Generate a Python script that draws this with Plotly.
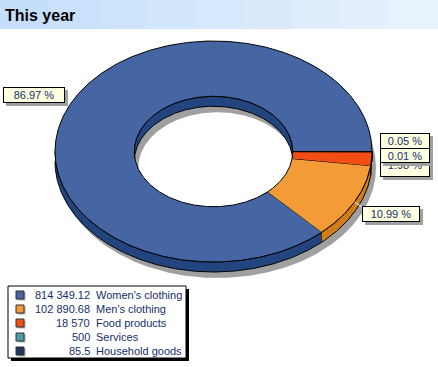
import numpy as np
import plotly.graph_objects as go

# ---------------- data ----------------
categories = ["Women's clothing", "Men's clothing", "Food products", "Services", "Household goods"]
values = [814349.12, 102890.68, 18570, 500, 85.5]
top_colors = ["#4566A3", "#F39C37", "#F24E13", "#4B9CA8", "#22375F"]
wall_colors = ["#23457F", "#D27C17", "#C23A08", "#2F7A85", "#15223D"]
title_text = "This year"

# ---------------- layout constants ----------------
W, H = 438, 367
CX, CY, RX, RY = 213.5, 151.5, 158.5, 110.5
HOLE = 0.5
DEPTH = 10
SDX, SDY = 4, 16
FONT = "Arial, Liberation Sans, sans-serif"
TXT = "#14306B"
# label boxes (x0, y0, x1, y1) and whether a leader line is drawn
label_boxes = [(3, 87, 65, 103), (362, 206, 420, 222), (380, 152, 430, 177),
               (380, 133, 430, 149), (380, 148, 430, 163)]
label_leader = [False, True, False, False, False]


def arc(t0, t1, rx, ry, dx=0.0, dy=0.0):
    n = max(2, int(abs(t1 - t0) / 0.5) + 2)
    t = np.radians(np.linspace(t0, t1, n))
    return CX + dx + rx * np.cos(t), CY + dy - ry * np.sin(t)


def poly(fig, xs, ys, fill, line=True):
    fig.add_trace(go.Scatter(
        x=np.concatenate(xs), y=np.concatenate(ys), mode="lines", fill="toself",
        fillcolor=fill, line=dict(color="black" if line else fill, width=1 if line else 0),
        hoverinfo="skip", showlegend=False))


total = sum(values)
fracs = [v / total for v in values]
starts = np.concatenate([[0], np.cumsum(fracs)[:-1]]) * 360
ends = np.cumsum(fracs) * 360

fig = go.Figure()

# shadow of the donut
xo, yo = arc(0, 360, RX, RY, SDX, SDY)
xi, yi = arc(360, 0, RX * HOLE, RY * HOLE, SDX, SDY)
poly(fig, [xo, xi], [yo, yi], "#A0A0A0", line=False)

# inner (back) walls
for a, b, c in zip(starts, ends, wall_colors):
    lo, hi = max(a, 0), min(b, 180)
    if hi > lo:
        x1, y1 = arc(lo, hi, RX * HOLE, RY * HOLE)
        x2, y2 = arc(hi, lo, RX * HOLE, RY * HOLE, 0, DEPTH)
        poly(fig, [x1, x2], [y1, y2], c)

# outer (front) walls
for a, b, c in zip(starts, ends, wall_colors):
    lo, hi = max(a, 180), min(b, 360)
    if hi > lo:
        x1, y1 = arc(lo, hi, RX, RY)
        x2, y2 = arc(hi, lo, RX, RY, 0, DEPTH)
        poly(fig, [x1, x2], [y1, y2], c)

# top surfaces
for a, b, c in zip(starts, ends, top_colors):
    x1, y1 = arc(a, b, RX, RY)
    x2, y2 = arc(b, a, RX * HOLE, RY * HOLE)
    poly(fig, [x1, x2], [y1, y2], c)

shapes = []
annotations = []

# title bar (stepped gradient)
nb = 9
c0, c1 = np.array([197, 223, 250]), np.array([232, 242, 253])
for i in range(nb):
    col = c0 + (c1 - c0) * i / (nb - 1)
    shapes.append(dict(type="rect", xref="x", yref="y", x0=W * i / nb, x1=W * (i + 1) / nb + 1,
                       y0=0, y1=29, fillcolor="rgb(%d,%d,%d)" % tuple(col.astype(int)),
                       line=dict(width=0), layer="below"))
annotations.append(dict(text="<b>" + title_text + "</b>", x=3, y=15.5, xref="x", yref="y",
                        xanchor="left", yanchor="middle", showarrow=False,
                        font=dict(family=FONT, size=16, color="black")))

# percentage labels (each with its own drop shadow, drawn in order)
for i, (f, box) in enumerate(zip(fracs, label_boxes)):
    x0, y0, x1, y1 = box
    if label_leader[i]:
        mid = (starts[i] + ends[i]) / 2
        px, py = CX + RX * np.cos(np.radians(mid)), CY - RY * np.sin(np.radians(mid))
        fig.add_trace(go.Scatter(x=[px, x0], y=[py, y0 + 1], mode="lines",
                                 line=dict(color="white", width=1), hoverinfo="skip",
                                 showlegend=False))
    annotations.append(dict(text=" ", x=x0 + 3, y=y0 + 3, xref="x", yref="y",
                            xanchor="left", yanchor="top", showarrow=False,
                            width=x1 - x0, height=y1 - y0, borderpad=0, borderwidth=0,
                            bgcolor="#A0A0A0", font=dict(family=FONT, size=11)))
    annotations.append(dict(text="%.2f %%" % (f * 100), x=x0, y=y0, xref="x", yref="y",
                            xanchor="left", yanchor="top", showarrow=False,
                            width=x1 - x0 - 2, height=y1 - y0 - 2, borderpad=0,
                            bgcolor="#FFFFE1", bordercolor="black", borderwidth=1,
                            font=dict(family=FONT, size=11, color=TXT)))

# legend
LX0, LY0, LX1, LY1 = 8, 286, 186, 358
shapes.append(dict(type="rect", xref="x", yref="y", x0=LX0 + 3, y0=LY0 + 3, x1=LX1 + 3, y1=LY1 + 3,
                   fillcolor="black", line=dict(width=0), layer="below"))
shapes.append(dict(type="rect", xref="x", yref="y", x0=LX0, y0=LY0, x1=LX1, y1=LY1,
                   fillcolor="white", line=dict(color="black", width=1), layer="below"))


def fmt(v):
    s = format(v, ",.2f").rstrip("0").rstrip(".")
    return s.replace(",", " ")


rows_y = [295 + 14 * i for i in range(len(categories))]
fig.add_trace(go.Scatter(x=[21.5] * len(categories), y=[y + 1.5 for y in rows_y], mode="markers",
                         marker=dict(symbol="square", size=8, color="#B0B0B0", line=dict(width=0)),
                         hoverinfo="skip", showlegend=False))
fig.add_trace(go.Scatter(x=[20] * len(categories), y=rows_y, mode="markers",
                         marker=dict(symbol="square", size=8, color=top_colors,
                                     line=dict(color="#303030", width=1)),
                         hoverinfo="skip", showlegend=False))
for cat, v, y in zip(categories, values, rows_y):
    annotations.append(dict(text=fmt(v), x=91.5, y=y, xref="x", yref="y", xanchor="right",
                            yanchor="middle", showarrow=False,
                            font=dict(family=FONT, size=11, color=TXT)))
    annotations.append(dict(text=cat, x=94, y=y, xref="x", yref="y", xanchor="left",
                            yanchor="middle", showarrow=False,
                            font=dict(family=FONT, size=11, color=TXT)))

fig.update_layout(
    width=W, height=H, autosize=False,
    margin=dict(l=0, r=0, t=0, b=0, pad=0),
    paper_bgcolor="white", plot_bgcolor="white",
    xaxis=dict(range=[0, W], visible=False, fixedrange=True),
    yaxis=dict(range=[H, 0], visible=False, fixedrange=True),
    shapes=shapes, annotations=annotations, showlegend=False,
)

fig.write_html("out.html", config={"displayModeBar": False},
               post_script="document.body.style.margin='0';document.body.style.padding='0';")
